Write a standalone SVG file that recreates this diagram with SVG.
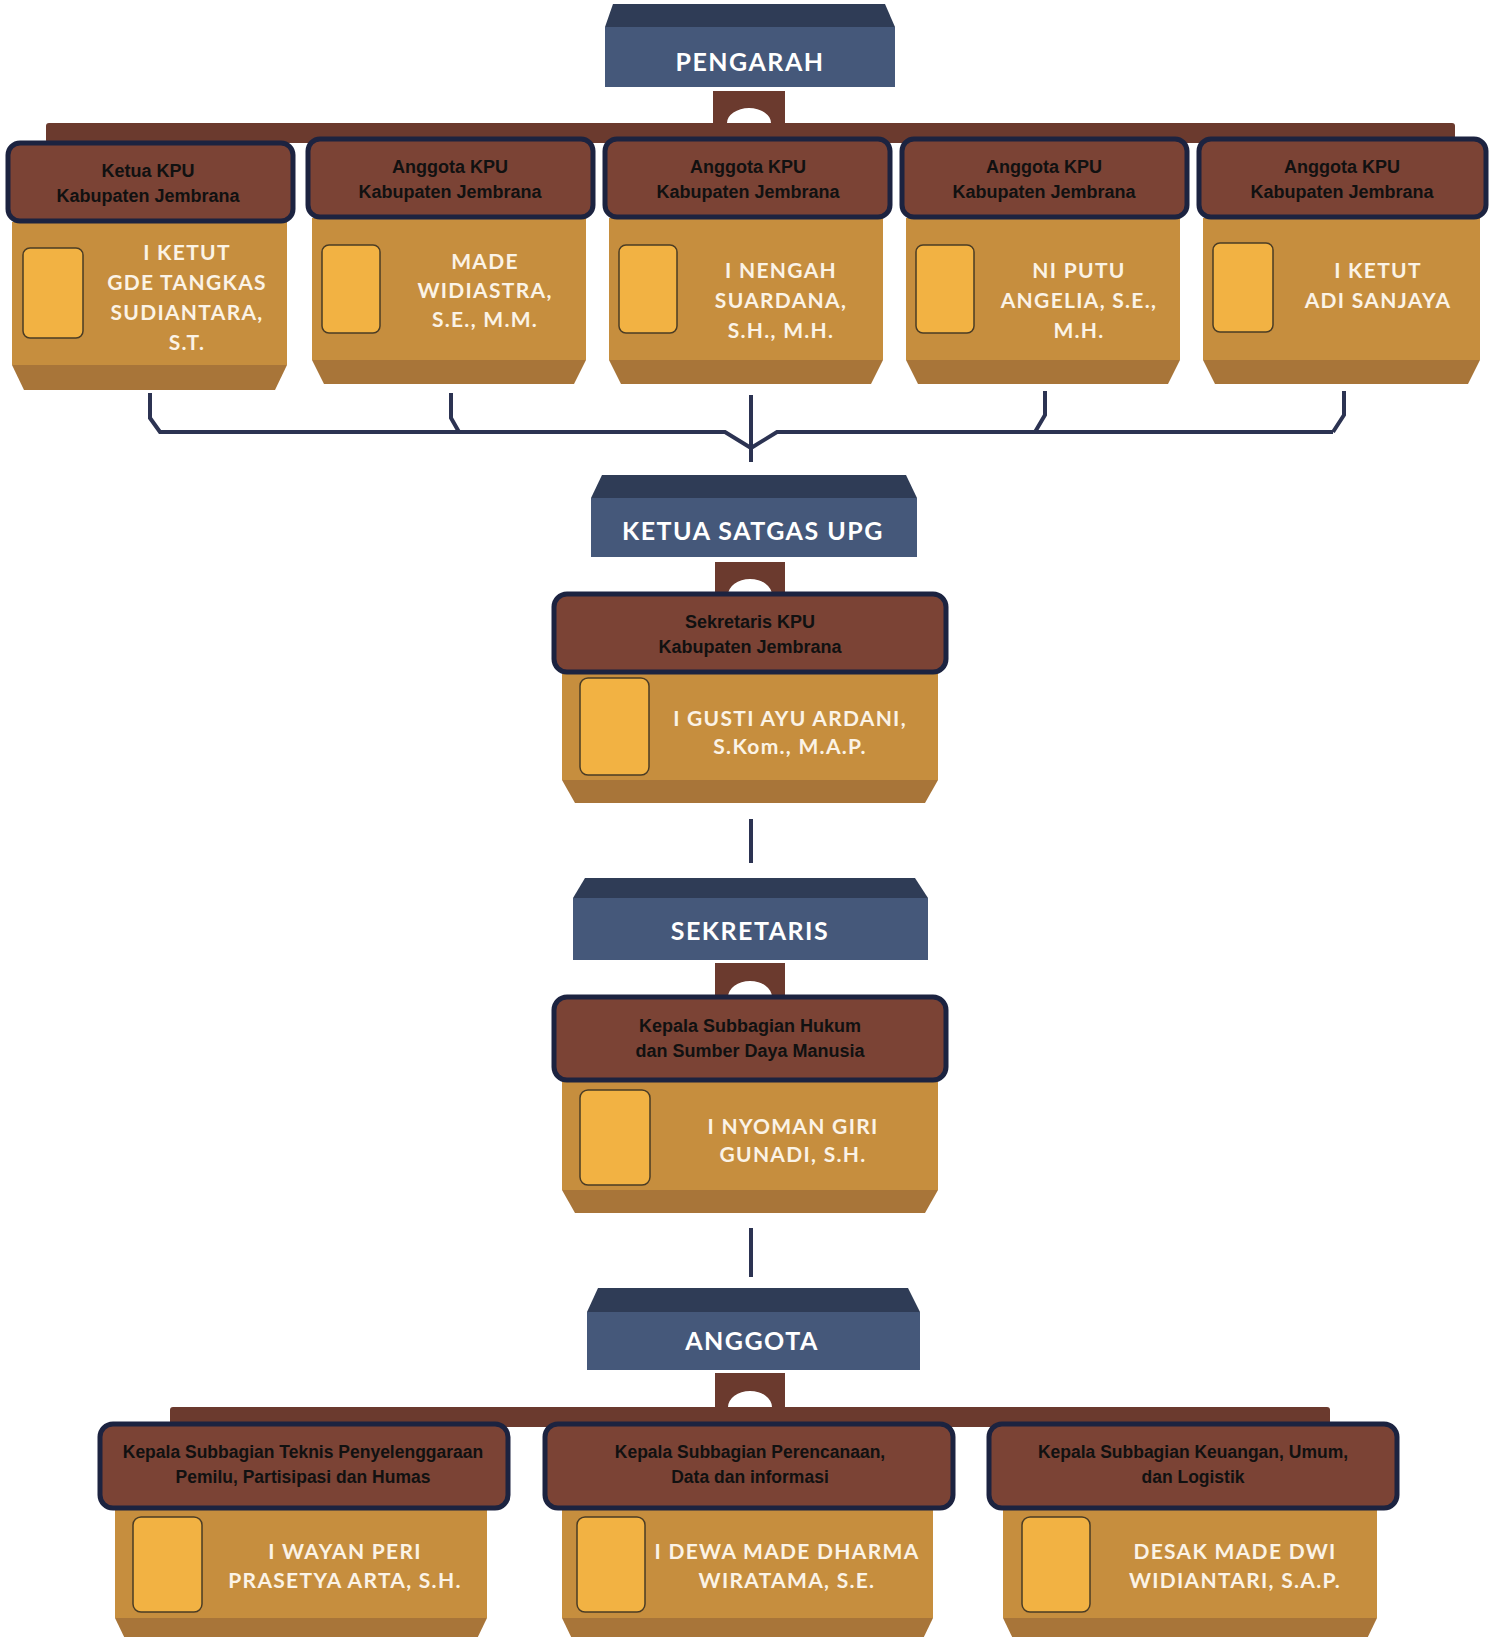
<svg xmlns="http://www.w3.org/2000/svg" width="1499" height="1637" viewBox="0 0 1499 1637">
<style>
.bg{fill:#ffffff}
.tface{fill:#45587a}
.ttop{fill:#2f3c56}
.ttxt{font-family:Lato,"Open Sans",sans-serif;font-weight:bold;font-size:25px;letter-spacing:1.5px;fill:#ffffff;text-anchor:middle}
.brown{fill:#6b3a2e}
.hdr{fill:#7b4335;stroke:#1c2340;stroke-width:5}
.htxt{font-family:"Liberation Sans",Arial,sans-serif;font-weight:bold;font-size:18px;fill:#111111;text-anchor:middle}
.htxt2{font-family:"Liberation Sans",Arial,sans-serif;font-weight:bold;font-size:17.5px;fill:#111111;text-anchor:middle}
.body{fill:#c68e3e}
.bev{fill:#a87539}
.photo{fill:#f2b243;stroke:#4a3c25;stroke-width:1.5}
.ntxt{font-family:Lato,"Open Sans",sans-serif;font-weight:bold;font-size:21px;letter-spacing:1.3px;fill:#fbf3e6;text-anchor:middle}
.conn{fill:none;stroke:#2c3352;stroke-width:4;stroke-linejoin:miter}
</style>
<rect class="bg" x="0" y="0" width="1499" height="1637"/>

<!-- bars and brown joints -->
<g id="bars">
<rect class="brown" x="46" y="123" width="1409" height="20" rx="3"/>
<path class="brown" d="M713,91 H785 V123 H771 A22 15 0 0 0 727,123 H713 Z"/>
<path class="brown" d="M715,562 H785 V595 H772 A22 16 0 0 0 728,595 H715 Z"/>
<path class="brown" d="M715,963 H785 V997 H772 A22 16 0 0 0 728,997 H715 Z"/>
<path class="brown" d="M715,1373 H785 V1407 H772 A22 16 0 0 0 728,1407 H715 Z"/>
<rect class="brown" x="170" y="1407" width="1160" height="20" rx="3"/>
</g>

<!-- connectors -->
<g id="connectors">
<path class="conn" d="M150,393 V418 L160,432 H725 L751,448"/>
<path class="conn" d="M451,393 V418 L459,432"/>
<path class="conn" d="M751,395 V462"/>
<path class="conn" d="M1333,432 H777 L751,448"/>
<path class="conn" d="M1045,391 V415 L1035,432"/>
<path class="conn" d="M1344,391 V415 L1333,432"/>
<path class="conn" d="M751,819 V863"/>
<path class="conn" d="M751,1228 V1277"/>
</g>

<!-- title boxes -->
<g id="pengarah">
<polygon class="ttop" points="613,4 885,4 895,27 605,27"/>
<rect class="tface" x="605" y="27" width="290" height="60"/>
<text class="ttxt" x="750" y="71">PENGARAH</text>
</g>
<g id="ketua-satgas">
<polygon class="ttop" points="602,475 906,475 917,498 591,498"/>
<rect class="tface" x="591" y="498" width="326" height="59"/>
<text class="ttxt" x="753" y="540">KETUA SATGAS UPG</text>
</g>
<g id="sekretaris">
<polygon class="ttop" points="585,878 915,878 928,898 573,898"/>
<rect class="tface" x="573" y="898" width="355" height="62"/>
<text class="ttxt" x="750" y="940">SEKRETARIS</text>
</g>
<g id="anggota">
<polygon class="ttop" points="598,1288 908,1288 920,1312 587,1312"/>
<rect class="tface" x="587" y="1312" width="333" height="58"/>
<text class="ttxt" x="752" y="1350">ANGGOTA</text>
</g>

<!-- top cards -->
<g id="card-ketua-kpu">
<rect class="body" x="12" y="222" width="275" height="143"/>
<polygon class="bev" points="12,365 287,365 275,390 24,390"/>
<rect class="hdr" x="8" y="143" width="285" height="78" rx="12"/>
<text class="htxt" x="148" y="177">Ketua KPU</text>
<text class="htxt" x="148" y="202">Kabupaten Jembrana</text>
<rect class="photo" x="23" y="248" width="60" height="90" rx="7"/>
<text class="ntxt" x="187" y="260">I KETUT</text>
<text class="ntxt" x="187" y="290">GDE TANGKAS</text>
<text class="ntxt" x="187" y="320">SUDIANTARA,</text>
<text class="ntxt" x="187" y="350">S.T.</text>
</g>
<g id="card-anggota-1">
<rect class="body" x="312" y="218" width="274" height="142"/>
<polygon class="bev" points="312,360 586,360 574,384 324,384"/>
<rect class="hdr" x="308" y="139" width="285" height="78" rx="12"/>
<text class="htxt" x="450" y="173">Anggota KPU</text>
<text class="htxt" x="450" y="198">Kabupaten Jembrana</text>
<rect class="photo" x="322" y="245" width="58" height="88" rx="7"/>
<text class="ntxt" x="485" y="269">MADE</text>
<text class="ntxt" x="485" y="298">WIDIASTRA,</text>
<text class="ntxt" x="485" y="327">S.E., M.M.</text>
</g>
<g id="card-anggota-2">
<rect class="body" x="609" y="218" width="274" height="142"/>
<polygon class="bev" points="609,360 883,360 871,384 621,384"/>
<rect class="hdr" x="605" y="139" width="285" height="78" rx="12"/>
<text class="htxt" x="748" y="173">Anggota KPU</text>
<text class="htxt" x="748" y="198">Kabupaten Jembrana</text>
<rect class="photo" x="619" y="245" width="58" height="88" rx="7"/>
<text class="ntxt" x="781" y="278">I NENGAH</text>
<text class="ntxt" x="781" y="308">SUARDANA,</text>
<text class="ntxt" x="781" y="338">S.H., M.H.</text>
</g>
<g id="card-anggota-3">
<rect class="body" x="906" y="218" width="274" height="142"/>
<polygon class="bev" points="906,360 1180,360 1168,384 918,384"/>
<rect class="hdr" x="902" y="139" width="285" height="78" rx="12"/>
<text class="htxt" x="1044" y="173">Anggota KPU</text>
<text class="htxt" x="1044" y="198">Kabupaten Jembrana</text>
<rect class="photo" x="916" y="245" width="58" height="88" rx="7"/>
<text class="ntxt" x="1079" y="278">NI PUTU</text>
<text class="ntxt" x="1079" y="308">ANGELIA, S.E.,</text>
<text class="ntxt" x="1079" y="338">M.H.</text>
</g>
<g id="card-anggota-4">
<rect class="body" x="1203" y="218" width="277" height="142"/>
<polygon class="bev" points="1203,360 1480,360 1468,384 1215,384"/>
<rect class="hdr" x="1199" y="139" width="287" height="78" rx="12"/>
<text class="htxt" x="1342" y="173">Anggota KPU</text>
<text class="htxt" x="1342" y="198">Kabupaten Jembrana</text>
<rect class="photo" x="1213" y="243" width="60" height="89" rx="7"/>
<text class="ntxt" x="1378" y="278">I KETUT</text>
<text class="ntxt" x="1378" y="308">ADI SANJAYA</text>
</g>

<!-- middle cards -->
<g id="card-sekretaris-kpu">
<rect class="body" x="562" y="672" width="376" height="108"/>
<polygon class="bev" points="562,780 938,780 925,803 575,803"/>
<rect class="hdr" x="554" y="594" width="392" height="78" rx="13"/>
<text class="htxt" x="750" y="628">Sekretaris KPU</text>
<text class="htxt" x="750" y="653">Kabupaten Jembrana</text>
<rect class="photo" x="580" y="678" width="69" height="97" rx="8"/>
<text class="ntxt" x="790" y="726">I GUSTI AYU ARDANI,</text>
<text class="ntxt" x="790" y="754">S.Kom., M.A.P.</text>
</g>
<g id="card-hukum">
<rect class="body" x="562" y="1080" width="376" height="110"/>
<polygon class="bev" points="562,1190 938,1190 925,1213 575,1213"/>
<rect class="hdr" x="554" y="997" width="392" height="83" rx="13"/>
<text class="htxt" x="750" y="1032">Kepala Subbagian Hukum</text>
<text class="htxt" x="750" y="1057">dan Sumber Daya Manusia</text>
<rect class="photo" x="580" y="1090" width="70" height="95" rx="8"/>
<text class="ntxt" x="793" y="1134">I NYOMAN GIRI</text>
<text class="ntxt" x="793" y="1162">GUNADI, S.H.</text>
</g>

<!-- bottom cards -->
<g id="card-teknis">
<rect class="body" x="115" y="1508" width="372" height="110"/>
<polygon class="bev" points="115,1618 487,1618 474,1645 128,1645"/>
<rect class="hdr" x="100" y="1424" width="408" height="84" rx="13"/>
<text class="htxt2" x="303" y="1458">Kepala Subbagian Teknis Penyelenggaraan</text>
<text class="htxt2" x="303" y="1483">Pemilu, Partisipasi dan Humas</text>
<rect class="photo" x="133" y="1517" width="69" height="95" rx="8"/>
<text class="ntxt" x="345" y="1559">I WAYAN PERI</text>
<text class="ntxt" x="345" y="1588">PRASETYA ARTA, S.H.</text>
</g>
<g id="card-perencanaan">
<rect class="body" x="562" y="1508" width="371" height="110"/>
<polygon class="bev" points="562,1618 933,1618 920,1645 575,1645"/>
<rect class="hdr" x="545" y="1424" width="408" height="84" rx="13"/>
<text class="htxt2" x="750" y="1458">Kepala Subbagian Perencanaan,</text>
<text class="htxt2" x="750" y="1483">Data dan informasi</text>
<rect class="photo" x="577" y="1517" width="68" height="95" rx="8"/>
<text class="ntxt" x="787" y="1559">I DEWA MADE DHARMA</text>
<text class="ntxt" x="787" y="1588">WIRATAMA, S.E.</text>
</g>
<g id="card-keuangan">
<rect class="body" x="1003" y="1508" width="374" height="110"/>
<polygon class="bev" points="1003,1618 1377,1618 1364,1645 1016,1645"/>
<rect class="hdr" x="989" y="1424" width="408" height="84" rx="13"/>
<text class="htxt2" x="1193" y="1458">Kepala Subbagian Keuangan, Umum,</text>
<text class="htxt2" x="1193" y="1483">dan Logistik</text>
<rect class="photo" x="1022" y="1517" width="68" height="95" rx="8"/>
<text class="ntxt" x="1235" y="1559">DESAK MADE DWI</text>
<text class="ntxt" x="1235" y="1588">WIDIANTARI, S.A.P.</text>
</g>
</svg>
